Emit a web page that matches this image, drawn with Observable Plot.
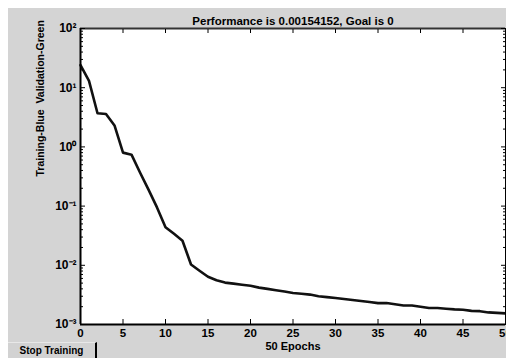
<!DOCTYPE html>
<html>
<head>
<meta charset="utf-8">
<script src="https://cdn.jsdelivr.net/npm/d3@7"></script>
<script src="https://cdn.jsdelivr.net/npm/@observablehq/plot@0.6"></script>
<style>
  html, body { margin: 0; padding: 0; background: #ffffff; overflow: hidden; }
  #wrap { position: relative; width: 506px; height: 358px; }
  #panel { position: absolute; left: 8px; top: 8px; width: 498px; height: 350px; background: #d4d4d4; }
  #chart { position: absolute; left: 0; top: 0; }
  #btn { position: absolute; left: 8px; top: 342px; width: 89px; height: 16px;
         border-right: 2px solid #000; border-top: 1px solid #e8e8e8; box-sizing: border-box;
         font: bold 10px "Liberation Sans", Arial, sans-serif; color: #000;
         text-align: center; line-height: 15px; background: #d2d2d2; }
</style>
</head>
<body>
<div id="wrap">
  <div id="panel"></div>
  <div id="chart"></div>
  <div id="btn">Stop Training</div>
</div>
<script>
// ---- data ----
const epochs = [0,1,2,3,4,5,6,7,8,9,10,11,12,13,14,15,16,17,18,19,20,21,22,23,24,25,26,27,28,29,30,31,32,33,34,35,36,37,38,39,40,41,42,43,44,45,46,47,48,49,50];
const perf = [24, 13, 3.7, 3.6, 2.3, 0.8, 0.74, 0.37, 0.19, 0.095, 0.044, 0.034, 0.026, 0.0103, 0.0081, 0.0064, 0.0056, 0.0051, 0.0049, 0.0047,
              0.0045, 0.0042, 0.0040, 0.0038, 0.0036, 0.0034, 0.0033, 0.0032, 0.0030, 0.0029, 0.0028, 0.0027, 0.0026, 0.0025, 0.0024,
              0.0023, 0.0023, 0.0022, 0.0021, 0.0021, 0.0020, 0.0019, 0.0019, 0.00185, 0.0018, 0.00177, 0.0017, 0.00168, 0.0016, 0.00157, 0.00154];
const xTicks = [0, 5, 10, 15, 20, 25, 30, 35, 40, 45, 50];
const yMajor = [1e-3, 1e-2, 1e-1, 1, 10, 100];
const yMajorLabels = ["10\u207B\u00B3", "10\u207B\u00B2", "10\u207B\u00B9", "10\u2070", "10\u00B9", "10\u00B2"];
const yMinor = [];
for (const d of [1e-3, 1e-2, 1e-1, 1, 10]) for (const m of [2,3,4,5,6,7,8,9]) yMinor.push(d * m);
const titleText = "Performance is 0.00154152, Goal is 0";
const yLabelText = "Training-Blue  Validation-Green";
const xLabelText = "50 Epochs";

const data = epochs.map((e, i) => ({epoch: e, perf: perf[i]}));
const yFmt = v => yMajorLabels[yMajor.findIndex(m => Math.abs(m - v) / m < 1e-6)];

const chart = Plot.plot({
  width: 506, height: 358,
  marginLeft: 80, marginRight: 1, marginTop: 28, marginBottom: 34,
  style: {background: "transparent", fontFamily: "'Liberation Sans', Arial, sans-serif", fontSize: "11px", color: "#000", overflow: "visible", maxWidth: "none"},
  x: {domain: [0, 50]},
  y: {type: "log", domain: [1e-3, 1e2]},
  marks: [
    Plot.frame({fill: "#ffffff", stroke: null}),
    Plot.line(data, {x: "epoch", y: "perf", stroke: "#111", strokeWidth: 2.6, strokeLinejoin: "round"}),
    // borders
    Plot.ruleY([1e2], {stroke: "#333", strokeWidth: 2}),
    Plot.ruleY([1e-3], {stroke: "#000", strokeWidth: 2}),
    Plot.ruleX([0], {stroke: "#000", strokeWidth: 2}),
    Plot.ruleX([50], {stroke: "#000", strokeWidth: 1}),
    // inward ticks
    Plot.axisY(yMajor, {anchor: "left", tickSize: 5, dx: 5, fill: "none", label: null, stroke: "#000"}),
    Plot.axisY(yMinor, {anchor: "left", tickSize: 3, dx: 3, fill: "none", label: null, stroke: "#000"}),
    Plot.axisY(yMajor, {anchor: "right", tickSize: 5, dx: -5, fill: "none", label: null, stroke: "#000"}),
    Plot.axisY(yMinor, {anchor: "right", tickSize: 3, dx: -3, fill: "none", label: null, stroke: "#000"}),
    Plot.axisX(xTicks, {anchor: "top", tickSize: 4, dy: 4, fill: "none", label: null, stroke: "#000"}),
    Plot.axisX(xTicks, {anchor: "bottom", tickSize: 5, dy: -5, fill: "none", label: null, stroke: "#000"}),
    // tick labels
    Plot.axisY(yMajor, {anchor: "left", tickSize: 0, tickPadding: 4, tickFormat: yFmt, label: null, fontSize: 12, fontWeight: "bold", fill: "#000"}),
    Plot.axisX(xTicks, {anchor: "bottom", tickSize: 0, tickPadding: 4, label: null, fontSize: 11.5, fontWeight: "bold", fill: "#000"}),
    // titles
    Plot.text([titleText], {frameAnchor: "top", dy: -12, fontSize: 11.5, fontWeight: "bold", fill: "#000"}),
    Plot.text([xLabelText], {frameAnchor: "bottom", dy: 25, fontSize: 11, fontWeight: "bold", fill: "#000"}),
    Plot.text([yLabelText], {frameAnchor: "left", dx: -40, rotate: -90, fontSize: 10.5, fontWeight: "bold", fill: "#000"})
  ]
});
document.getElementById("chart").appendChild(chart);
</script>
</body>
</html>
